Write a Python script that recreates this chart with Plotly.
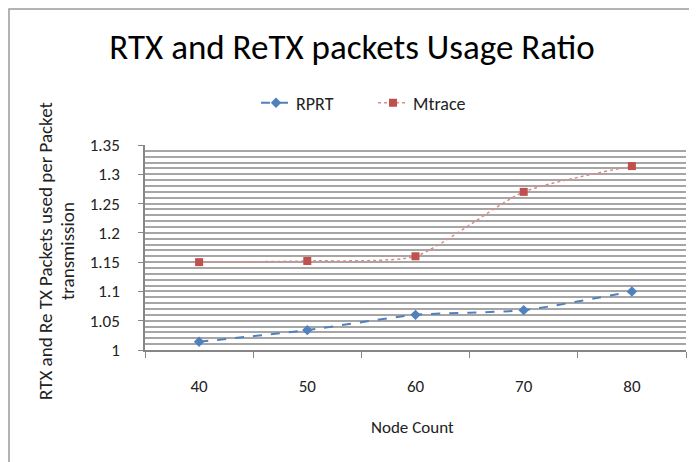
import plotly.graph_objects as go

categories = ["40", "50", "60", "70", "80"]
rprt = [1.014, 1.034, 1.060, 1.068, 1.100]
mtrace = [1.150, 1.152, 1.160, 1.270, 1.314]

FONT = "Carlito, 'Liberation Sans Narrow', Lato, sans-serif"
TXT = "#222222"

fig = go.Figure()
fig.add_trace(go.Scatter(
    x=categories, y=rprt, name="RPRT", mode="lines+markers",
    line=dict(color="#4F81BD", dash="dash", width=2, shape="spline", smoothing=0.6),
    marker=dict(symbol="diamond", size=8, color="#4F81BD"),
))
fig.add_trace(go.Scatter(
    x=categories, y=mtrace, name="Mtrace", mode="lines+markers",
    line=dict(color="#E08A88", dash="dot", width=1.5, shape="spline", smoothing=0.6),
    marker=dict(symbol="square", size=8, color="#C0504D"),
))

# page has an 8px body margin; plot area should land at screen x 145-686, y 145-350
L, R, T, B = 137, 19, 137, 120
PW, PH = 697 - L - R, 462 - T - B
SX, SY = 145, 350  # screen position of plot-area left / bottom

def px(x):
    return (x - SX) / PW

def py(y):
    return (SY - y) / PH

fig.update_layout(
    width=697, height=462,
    margin=dict(l=L, r=R, t=T, b=B, autoexpand=False),
    paper_bgcolor="white", plot_bgcolor="white",
    font=dict(family=FONT, size=17, color=TXT),
    title=dict(text="RTX and ReTX packets Usage Ratio", x=(352 - 8) / 697, xanchor="center",
               xref="container", y=1 - (47 - 8) / 462, yanchor="middle",
               font=dict(size=35, color="black", family=FONT)),
    legend=dict(orientation="h", x=px(256), xanchor="left", y=py(103), yanchor="middle",
                font=dict(size=18, color=TXT), bgcolor="rgba(0,0,0,0)",
                entrywidth=72),
    showlegend=True,
)
fig.update_xaxes(
    type="category", range=[-0.5, 4.5], tickson="boundaries", ticks="outside", ticklen=6,
    tickcolor="#868686",
    showline=True, linecolor="#868686", linewidth=1.5, showgrid=False,
    automargin=False, ticklabelstandoff=20,
    tickfont=dict(size=17),
)
fig.update_yaxes(
    range=[1, 1.35], dtick=0.05, tick0=1, ticks="outside", ticklen=5, tickcolor="#868686",
    showline=True, linecolor="#868686", linewidth=1.5,
    showgrid=True, gridcolor="#A6A6A6", gridwidth=1.5,
    minor=dict(dtick=0.01, showgrid=True, gridcolor="#A6A6A6", gridwidth=1.5),
    zeroline=False, automargin=False, ticklabelstandoff=15,
    tickfont=dict(size=17),
)
fig.add_annotation(text="Node Count", xref="paper", yref="paper",
                   x=px(412), y=py(427), xanchor="center", yanchor="middle",
                   showarrow=False, font=dict(size=17, color=TXT))
fig.add_annotation(text="RTX and Re TX Packets used per Packet",
                   xref="paper", yref="paper",
                   x=px(45), y=py(251), xanchor="center", yanchor="middle",
                   textangle=-90, showarrow=False, font=dict(size=19, color=TXT))
fig.add_annotation(text="transmission",
                   xref="paper", yref="paper",
                   x=px(67), y=py(251), xanchor="center", yanchor="middle",
                   textangle=-90, showarrow=False, font=dict(size=19, color=TXT))
fig.add_shape(type="rect", xref="paper", yref="paper",
              x0=px(9), x1=1.3, y0=-0.8, y1=py(9),
              line=dict(color="#9A9A9A", width=1.5), fillcolor="rgba(0,0,0,0)", layer="below")

fig.write_html("out.html")
